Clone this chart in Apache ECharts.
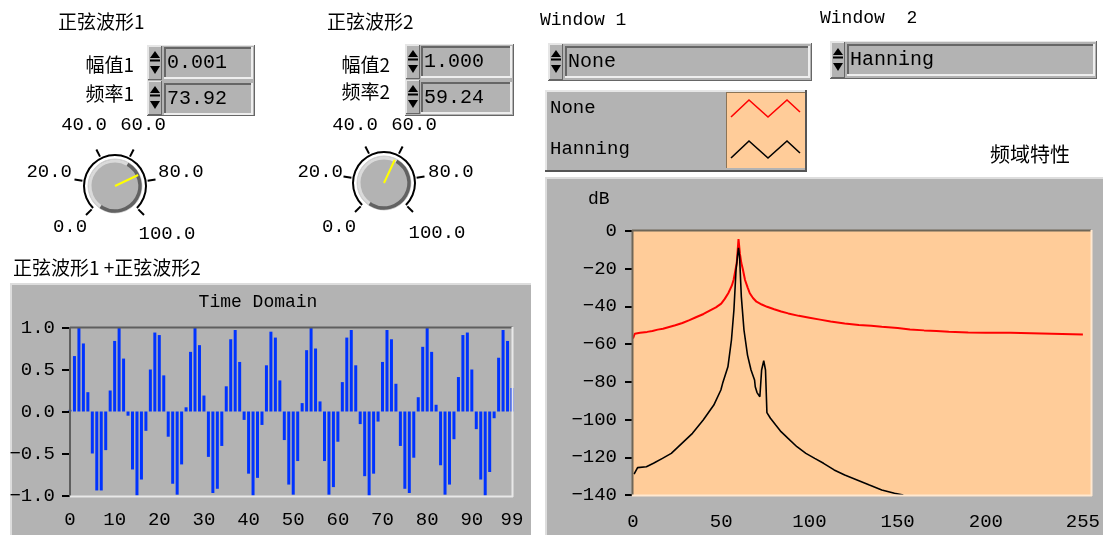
<!DOCTYPE html>
<html><head><meta charset="utf-8">
<script src="https://cdn.jsdelivr.net/npm/echarts@6/dist/echarts.min.js"></script>
<style>html,body{margin:0;padding:0;background:#fff}#c{width:1103px;height:535px}</style>
</head><body><div id="c"></div>
<script>
// ---------- data ----------
const timeValues = [
  0.02, 0.66, 1.0, 0.81, 0.23, -0.50, -0.94, -0.94, -0.46, 0.25,
  0.84, 1.0, 0.63, -0.05, -0.69, -1.0, -0.81, -0.23, 0.50, 0.94,
  0.91, 0.43, -0.30, -0.86, -0.99, -0.63, 0.05, 0.71, 1.0, 0.79,
  0.19, -0.54, -0.97, -0.92, -0.41, 0.30, 0.86, 0.97, 0.59, -0.10,
  -0.74, -1.0, -0.79, -0.16, 0.55, 0.95, 0.88, 0.37, -0.34, -0.87,
  -0.99, -0.59, 0.10, 0.73, 1.0, 0.75, 0.12, -0.59, -0.99, -0.90,
  -0.36, 0.35, 0.88, 0.97, 0.55, -0.15, -0.77, -1.0, -0.74, -0.12,
  0.59, 0.97, 0.86, 0.33, -0.41, -0.92, -0.97, -0.55, 0.17, 0.77,
  1.0, 0.71, 0.08, -0.64, -0.99, -0.87, -0.33, 0.41, 0.91, 0.94,
  0.50, -0.21, -0.81, -1.0, -0.72, -0.08, 0.64, 0.97, 0.84, 0.28
];
const timeTickLabels = [0, 10, 20, 30, 40, 50, 60, 70, 80, 90, 99];
const freqTickLabels = [0, 50, 100, 150, 200, 255];

const noneSpectrum = [
  [0,-57],[1,-54.5],[4,-54],[8,-53.5],[11,-53],[14,-52.3],[17,-51.8],[20,-51],[24,-50],
  [28,-48.8],[32,-47.3],[36,-45.6],[40,-44],[44,-42],[47,-40.5],[50,-38.5],[52,-36],
  [54,-33],[56,-29],[57,-26],[58,-21],[58.8,-17],[59.8,-4.3],[60.6,-12],[61.4,-17],
  [62.2,-20],[63.5,-26],[65,-30],[66.2,-33],[68,-35.5],[70,-37.5],[73,-39],[76,-40.2],
  [80,-41.5],[84,-42.7],[88,-43.7],[94,-45],[100,-46],[106,-47],[112,-48],[120,-49],
  [128,-49.9],[135,-50.3],[141,-50.8],[150,-51.5],[157,-52.2],[165,-52.7],[172,-53],
  [179,-53.4],[190,-53.8],[200,-54],[214,-54],[215,-54.9],[255,-54.9]
];
const hanningSpectrum = [
  [0.6,-128.9],[2.6,-125.5],[7.6,-125],[11.6,-123.2],[16.7,-120.6],[21.7,-117.9],
  [27.7,-112.6],[33.7,-107.3],[39.8,-100.2],[45.8,-92.3],[49.8,-84.3],[50.8,-80.8],
  [53.8,-72],[55.8,-57.8],[57.2,-41.9],[58.4,-20.7],[59.4,-12],[59.8,-9],[60.4,-13.6],
  [61.4,-34.8],[62.9,-52.5],[64.9,-65.8],[66.9,-73.7],[68.9,-79],[69.3,-82.6],
  [70.3,-85.7],[71.9,-87.9],[72.9,-73.7],[74.1,-68.8],[75.1,-73.7],[75.9,-96.3],
  [77.9,-99.3],[80.9,-102.9],[83.9,-106.4],[87.9,-110],[92.9,-114.4],[98,-117.9],
  [103,-120.6],[108,-123.2],[114,-126.7],[120,-129.4],[127,-132],[134,-134.7],
  [141,-137.3],[148.2,-139.1],[153.2,-140]
];
const knob1Value = 73.92;
const knob2Value = 59.24;
const knobScaleLabels = ['0.0', '20.0', '40.0', '60.0', '80.0', '100.0'];
const amp1Text = '0.001', freq1Text = '73.92', amp2Text = '1.000', freq2Text = '59.24';
const window1Text = 'None', window2Text = 'Hanning';
const seriesNames = ['None', 'Hanning'];

// ---------- drawing helpers ----------
const FM = '"Liberation Mono","DejaVu Sans Mono",monospace';
const FC = '"Noto Sans CJK SC","Noto Sans",sans-serif';
const GREY = '#B3B3B3', LIGHT = '#E6E6E6', DARK = '#666666';
const G = [];
function rect(x, y, w, h, fill, z) {
  G.push({type:'rect', silent:true, z: z || 0, shape:{x, y, width:w, height:h}, style:{fill}});
}
function line(x1, y1, x2, y2, stroke, lw, z) {
  G.push({type:'line', silent:true, z: z || 5, shape:{x1, y1, x2, y2}, style:{stroke, lineWidth: lw || 1}});
}
function poly(points, stroke, lw, z) {
  G.push({type:'polyline', silent:true, z: z || 5, shape:{points}, style:{stroke, lineWidth: lw, fill:null}});
}
function tri(points, z) {
  G.push({type:'polygon', silent:true, z: z || 6, shape:{points}, style:{fill:'#000'}});
}
function text(str, x, y, font, align) {
  const a = align || 'left';
  G.push({type:'text', silent:true, z:7, x, y,
    style:{text:str, font, fill:'#000', align:a, verticalAlign:'middle', textAlign:a, textVerticalAlign:'middle'}});
}
function bevel(x, y, w, h, tl, br, lw, z) {
  const o = lw / 2;
  line(x, y + o, x + w, y + o, tl, lw, z);
  line(x + o, y, x + o, y + h, tl, lw, z);
  line(x, y + h - o, x + w, y + h - o, br, lw, z);
  line(x + w - o, y, x + w - o, y + h, br, lw, z);
}
function arrows(x, y, h) {
  rect(x, y, 14, h, GREY, 4);
  bevel(x, y, 14, h, LIGHT, DARK, 1, 5);
  const m = y + h / 2;
  tri([[x + 2, m - 5], [x + 12, m - 5], [x + 7, m - 12]]);
  line(x + 2, m - 2.5, x + 12, m - 2.5, '#000', 2, 6);
  tri([[x + 2, m + 3], [x + 12, m + 3], [x + 7, m + 11]]);
}
function display(x, y, w, h, str) {
  rect(x, y, w, h, GREY, 4);
  bevel(x, y, w, h, DARK, '#EEEEEE', 2, 5);
  text(str, x + 3, y + h / 2, '20px ' + FM, 'left');
}

// ---------- panels ----------
rect(10, 283, 521, 252, GREY, 0);
line(10, 284, 531, 284, '#DDDDDD', 2, 1);
line(11, 283, 11, 535, '#DDDDDD', 2, 1);
rect(545, 177, 558, 358, GREY, 0);
line(545, 178, 1103, 178, '#DDDDDD', 2, 1);
line(546, 177, 546, 535, '#DDDDDD', 2, 1);
rect(633, 231, 458, 264, '#FFCC99', 1);
line(70, 327.5, 512.5, 327.5, '#5E5E5E', 2, 5);
line(70, 327, 70, 497, '#5E5E5E', 2, 5);
line(70, 496.5, 513, 496.5, '#E8E8E8', 2, 5);
line(512.5, 327, 512.5, 497, '#E8E8E8', 2, 5);
line(632, 230.5, 1091, 230.5, '#6E6658', 2, 5);
line(632.5, 230, 632.5, 496, '#6E6658', 2, 5);
line(632, 495.5, 1092, 495.5, '#FFE8D0', 2, 5);
line(1091.5, 230, 1091.5, 496, '#FFE8D0', 2, 5);

// ---------- titles / labels ----------
text('正弦波形1', 58, 22, '19px ' + FC);
text('正弦波形2', 327, 22, '19px ' + FC);
text('幅值1', 134, 65, '19px ' + FC, 'right');
text('频率1', 134, 94, '19px ' + FC, 'right');
text('幅值2', 390, 65, '19px ' + FC, 'right');
text('频率2', 390, 92, '19px ' + FC, 'right');
text('正弦波形1 +正弦波形2', 13, 268, '19px ' + FC);
text('Time Domain', 258, 302, '18px ' + FM, 'center');
text('Window 1', 540, 20, '18px ' + FM);
text('Window  2', 820, 18, '18px ' + FM);
text('频域特性', 990, 154, '20px ' + FC);
text('dB', 588, 199, '18px ' + FM);

// ---------- numeric controls ----------
rect(147, 45, 108, 71, GREY, 3);
bevel(147, 45, 108, 71, LIGHT, DARK, 1, 4);
arrows(148, 46, 34); arrows(148, 81, 34);
display(164, 47, 89, 32, amp1Text);
display(164, 83, 89, 32, freq1Text);
rect(405, 44, 109, 72, GREY, 3);
bevel(405, 44, 109, 72, LIGHT, DARK, 1, 4);
arrows(406, 45, 34); arrows(406, 80, 34);
display(421, 46, 91, 32, amp2Text);
display(421, 82, 91, 32, freq2Text);

rect(548, 43, 264, 38, GREY, 3);
bevel(548, 43, 264, 38, LIGHT, DARK, 1, 4);
arrows(549, 44, 36);
display(565, 46, 245, 32, window1Text);
rect(830, 41, 267, 38, GREY, 3);
bevel(830, 41, 267, 38, LIGHT, DARK, 1, 4);
arrows(831, 42, 36);
display(847, 44, 248, 32, window2Text);

// legend box
rect(545, 90, 262, 82, GREY, 3);
bevel(545, 90, 262, 82, LIGHT, '#555555', 2, 4);
rect(726, 92, 79, 76, '#FFCC99', 4);
line(726.5, 92, 726.5, 168, '#8C7456', 1, 5);
line(726, 92.5, 805, 92.5, '#8C7456', 1, 5);
text(seriesNames[0], 550, 108, '19px ' + FM);
text(seriesNames[1], 550, 149, '19px ' + FM);
poly([[731,117],[749,100],[768,117],[787,100],[800,112]], '#FF0000', 1.6, 6);
poly([[731,158],[749,141],[768,158],[787,141],[800,153]], '#000000', 1.6, 6);

function knobBody(cx, cy) {
  const d = Math.PI / 180;
  G.push({type:'circle', silent:true, z:2, shape:{cx, cy, r:27}, style:{fill:GREY, stroke:'#D0D0D0', lineWidth:1}});
  G.push({type:'arc', silent:true, z:2, shape:{cx, cy, r:25, startAngle:125*d, endAngle:300*d, clockwise:true},
    style:{stroke:'#DADADA', lineWidth:3, fill:null}});
  G.push({type:'arc', silent:true, z:2, shape:{cx, cy, r:25, startAngle:300*d, endAngle:485*d, clockwise:true},
    style:{stroke:'#626262', lineWidth:3.5, fill:null}});
}
knobBody(115, 186);
knobBody(384, 183);
const k1Pos = [[70,227,'center'],[72,172,'right'],[84,125,'center'],[143,125,'center'],[158,172,'left'],[167,234,'center']];
const k2Pos = [[339,227,'center'],[343,172,'right'],[355,125,'center'],[414,125,'center'],[428,172,'left'],[437,233,'center']];
knobScaleLabels.forEach((s, i) => {
  text(s, k1Pos[i][0], k1Pos[i][1], '19px ' + FM, k1Pos[i][2]);
  text(s, k2Pos[i][0], k2Pos[i][1], '19px ' + FM, k2Pos[i][2]);
});

function knobGauge(center, value) {
  return {
    type:'gauge', z:3, center, radius:32, startAngle:225, endAngle:-45, min:0, max:100, splitNumber:5,
    animation:false,
    axisLine:{lineStyle:{width:2, color:[[1, '#000']]}},
    splitLine:{distance:-3, length:-8, lineStyle:{color:'#000', width:2}},
    axisTick:{show:false}, axisLabel:{show:false},
    pointer:{icon:'rect', length:'80%', width:2, itemStyle:{color:'#FFFF00'}},
    anchor:{show:false}, title:{show:false}, detail:{show:false},
    data:[{value}]
  };
}

const minusFmt = (v, d) => (v < 0 ? '\u2212' : '') + Math.abs(v).toFixed(d);

const option = {
  animation:false,
  graphic:{elements:G},
  grid:[
    {left:70, top:327.5, width:442, height:168, show:false},
    {left:633, top:231, width:458, height:264, show:false}
  ],
  xAxis:[
    {type:'value', gridIndex:0, min:0, max:99, z:4,
     axisLine:{show:false}, axisTick:{show:false}, splitLine:{show:false},
     axisLabel:{customValues:timeTickLabels, fontSize:19, fontFamily:FM, color:'#000', margin:15}},
    {type:'value', gridIndex:1, min:0, max:255, z:4,
     axisLine:{show:false}, axisTick:{show:false}, splitLine:{show:false},
     axisLabel:{customValues:freqTickLabels, fontSize:19, fontFamily:FM, color:'#000', margin:17}}
  ],
  yAxis:[
    {type:'value', gridIndex:0, min:-1, max:1, interval:0.5, offset:4, z:4,
     axisLine:{show:false}, axisTick:{show:true, length:8, lineStyle:{color:'#000', width:2}}, splitLine:{show:false},
     axisLabel:{formatter:v => minusFmt(v, 1), fontSize:19, fontFamily:FM, color:'#000', margin:11}},
    {type:'value', gridIndex:1, min:-140, max:0, interval:20, offset:3, z:4,
     axisLine:{show:false}, axisTick:{show:true, length:8, lineStyle:{color:'#000', width:2}}, splitLine:{show:false},
     axisLabel:{formatter:v => minusFmt(v, 0), fontSize:19, fontFamily:FM, color:'#000', margin:13}}
  ],
  series:[
    {type:'bar', name:'Time Domain', xAxisIndex:0, yAxisIndex:0, z:3, barWidth:3,
     itemStyle:{color:'#0033FF'}, data:timeValues.map((v, i) => [i, v])},
    {type:'line', name:seriesNames[0], xAxisIndex:1, yAxisIndex:1, z:3, showSymbol:false, clip:true,
     lineStyle:{color:'#FF0000', width:2}, data:noneSpectrum},
    {type:'line', name:seriesNames[1], xAxisIndex:1, yAxisIndex:1, z:3, showSymbol:false, clip:true,
     lineStyle:{color:'#000000', width:1.6}, data:hanningSpectrum},
    knobGauge([115, 186], knob1Value),
    knobGauge([384, 183], knob2Value)
  ]
};
const chart = echarts.init(document.getElementById('c'), null, {renderer:'canvas'});
chart.setOption(option);
</script>
</body></html>
